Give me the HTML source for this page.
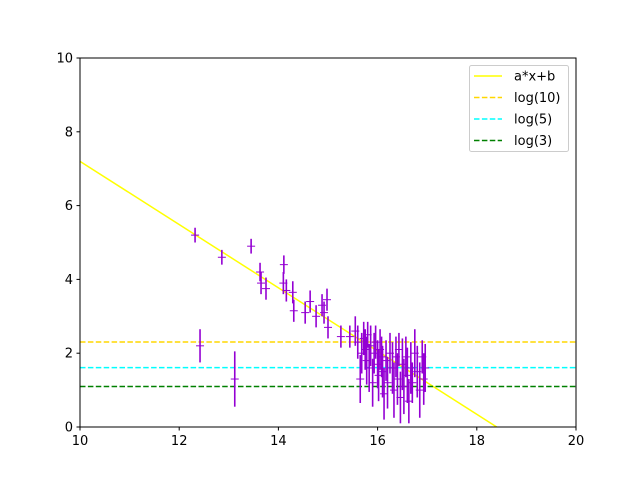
<!DOCTYPE html>
<html><head><meta charset="utf-8"><style>
body{margin:0;background:#fff;font-family:"DejaVu Sans","Liberation Sans",sans-serif}
</style></head><body>
<svg id="c" width="640" height="480" xmlns="http://www.w3.org/2000/svg"></svg>
<script>
const xs=[12.32,12.86,13.45,13.63,13.65,13.75,14.11,14.1,14.16,14.29,14.31,14.54,14.64,14.76,14.88,14.98,15.0,14.92,15.26,15.44,12.42,13.12,
15.55,15.6,15.65,15.68,15.72,15.75,15.78,15.8,15.83,15.86,15.9,15.93,15.96,16.0,16.02,16.05,16.08,16.1,16.13,16.17,16.2,16.25,16.3,16.33,16.37,16.4,16.43,16.46,16.5,16.53,16.57,16.6,16.63,16.67,16.7,16.75,16.8,16.85,16.9,16.93,16.96];
const ys=[5.2,4.6,4.9,4.2,3.9,3.75,4.4,3.9,3.7,3.65,3.15,3.1,3.4,3.0,3.3,3.45,2.7,3.1,2.45,2.45,2.2,1.3,
2.6,2.3,1.3,2.0,2.4,2.1,1.8,2.5,1.6,2.2,1.2,2.0,2.3,1.7,1.4,2.1,1.9,1.5,0.9,1.8,1.2,2.0,1.6,1.0,1.9,1.3,2.1,0.8,1.7,1.1,1.9,1.4,0.7,1.6,1.2,2.0,1.5,1.0,1.9,1.3,1.6];
const es=[0.2,0.2,0.2,0.25,0.3,0.3,0.25,0.3,0.3,0.3,0.3,0.3,0.3,0.3,0.3,0.3,0.3,0.3,0.3,0.3,0.45,0.75,
0.4,0.45,0.65,0.55,0.45,0.55,0.65,0.35,0.65,0.55,0.65,0.55,0.45,0.65,0.7,0.55,0.55,0.7,0.7,0.55,0.7,0.55,0.7,0.75,0.55,0.7,0.45,0.7,0.7,0.75,0.55,0.75,0.6,0.7,0.55,0.65,0.7,0.75,0.45,0.7,0.65];
const slope=-0.857, intercept=15.77;
const hlines=[{v:Math.log(10),c:"#ffd700",l:"log(10)"},{v:Math.log(5),c:"#00ffff",l:"log(5)"},{v:Math.log(3),c:"#008000",l:"log(3)"}];
const xticks=[10,12,14,16,18,20], yticks=[0,2,4,6,8,10];
const L=80,R=576,T=58,B=427;
const X=v=>L+(v-10)/10*(R-L), Y=v=>B-v/10*(B-T);
const svg=document.getElementById('c'), NS="http://www.w3.org/2000/svg";
function mk(t,a,p){const e=document.createElementNS(NS,t);for(const k in a)e.setAttribute(k,a[k]);(p||svg).appendChild(e);return e;}
const clip=mk('clipPath',{id:'cl'});mk('rect',{x:L,y:T,width:R-L,height:B-T},clip);
const g=mk('g',{'clip-path':'url(#cl)'});
const fl=mk('line',{x1:X(10),y1:Y(slope*10+intercept),x2:X(20),y2:Y(slope*20+intercept),stroke:'#ffff00','stroke-width':1.5},g);


hlines.forEach(h=>{const e=mk('line',{x1:L,x2:R,y1:Y(h.v),y2:Y(h.v),stroke:h.c,'stroke-width':1.5,'stroke-dasharray':'5.5,2.4'},g);

});
for(let i=0;i<xs.length;i++){const gg=mk('g',{stroke:'#9400d3','stroke-width':1.6},g);


mk('line',{x1:X(xs[i]),x2:X(xs[i]),y1:Y(ys[i]-es[i]),y2:Y(ys[i]+es[i])},gg);
mk('line',{x1:X(xs[i])-4,x2:X(xs[i])+4,y1:Y(ys[i]),y2:Y(ys[i]),'stroke-width':1},gg);}
const fr=mk('rect',{x:L,y:T,width:R-L,height:B-T,fill:'none',stroke:'#000','stroke-width':1});


xticks.forEach(t=>{mk('line',{x1:X(t),x2:X(t),y1:B,y2:B+3.5,stroke:'#000'});
const e=mk('text',{x:X(t),y:B+18,'text-anchor':'middle','font-size':13});e.textContent=t;

});
yticks.forEach(t=>{mk('line',{x1:L-3.5,x2:L,y1:Y(t),y2:Y(t),stroke:'#000'});
const e=mk('text',{x:L-7,y:Y(t)+4.5,'text-anchor':'end','font-size':13});e.textContent=t;

});
const lg=mk('g',{});


mk('rect',{x:469.5,y:65.5,width:99,height:86,rx:2,fill:'#fff',stroke:'#ccc'},lg);
const items=[{c:'#ffff00',l:'a*x+b',d:null}].concat(hlines.map(h=>({c:h.c,l:h.l,d:'5.5,2.4'})));
items.forEach((it,i)=>{const y=76+i*21.5;const a={x1:474,x2:502,y1:y,y2:y,stroke:it.c,'stroke-width':1.5};if(it.d)a['stroke-dasharray']=it.d;mk('line',a,lg);
const t=mk('text',{x:514,y:y+4.5,'font-size':13},lg);t.textContent=it.l;

});
</script>
</body></html>
